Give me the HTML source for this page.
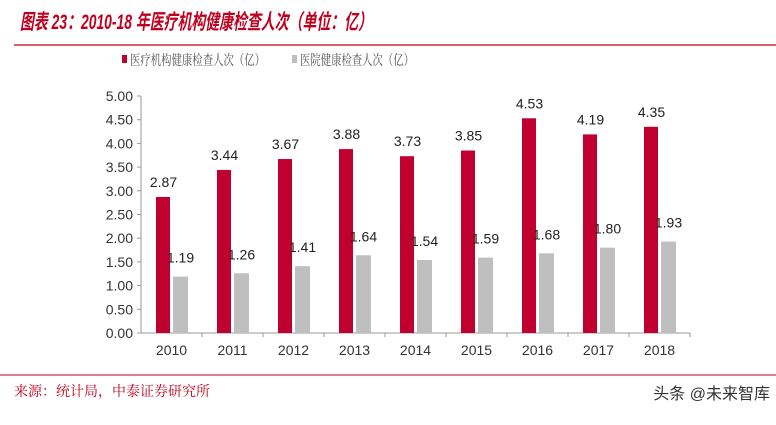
<!DOCTYPE html>
<html><head><meta charset="utf-8"><style>
body{margin:0;width:776px;height:420px;background:#fff;overflow:hidden;font-family:"Liberation Sans","Noto Sans CJK SC",sans-serif}
</style></head><body>
<svg width="776" height="420">
<text x="20" y="29" font-size="21" font-weight="bold" font-style="italic" fill="#c0001f" textLength="352" lengthAdjust="spacingAndGlyphs" font-family="Liberation Sans,Noto Sans CJK SC,sans-serif">图表 23：2010-18 年医疗机构健康检查人次（单位：亿）</text>
<line x1="14" y1="45" x2="776" y2="45" stroke="#c0001f" stroke-width="1.2"/>
<g font-size="14" fill="#555" font-family="Noto Serif CJK SC,serif">
<rect x="122" y="55" width="5" height="8" fill="#c0002f"/>
<text x="130" y="65" textLength="135" lengthAdjust="spacingAndGlyphs">医疗机构健康检查人次（亿）</text>
<rect x="292" y="55" width="5" height="8" fill="#bfbfbf"/>
<text x="300" y="65" textLength="114" lengthAdjust="spacingAndGlyphs">医院健康检查人次（亿）</text>
</g>
<g id="plot"></g>
<line x1="0" y1="375" x2="776" y2="375" stroke="#c0001f" stroke-width="1"/>
<text x="14" y="396" font-size="14" fill="#c0001f" font-family="Noto Serif CJK SC,serif">来源：统计局，中泰证券研究所</text>
<text x="770" y="399" text-anchor="end" font-size="16" fill="#333">头条 @未来智库</text>
</svg>
<script>
const years=["2010","2011","2012","2013","2014","2015","2016","2017","2018"];
const institutions=[2.87,3.44,3.67,3.88,3.73,3.85,4.53,4.19,4.35];
const hospitals=[1.19,1.26,1.41,1.64,1.54,1.59,1.68,1.80,1.93];
const yTicks=[0,0.5,1,1.5,2,2.5,3,3.5,4,4.5,5];
const NS="http://www.w3.org/2000/svg";
const g=document.getElementById('plot');
const x0=141,cw=61,y0=333,ppu=47.4;
const yS=v=>y0-v*ppu, xC=i=>x0+cw*(i+0.5);
function mk(t,a,txt){const e=document.createElementNS(NS,t);for(const k in a)e.setAttribute(k,a[k]);if(txt!=null)e.textContent=txt;g.appendChild(e);return e;}
let ax=mk('line',{x1:x0,y1:yS(5),x2:x0,y2:y0,stroke:'#999'});


let bx=mk('line',{x1:x0-4,y1:y0,x2:x0+cw*years.length,y2:y0,stroke:'#999'});


yTicks.forEach(v=>{
 let t=mk('line',{x1:x0-4,y1:yS(v),x2:x0,y2:yS(v),stroke:'#999'});
 
 
 let l=mk('text',{x:x0-8,y:yS(v)+5,'text-anchor':'end','font-size':14,fill:'#333'},v.toFixed(2));
 
 
});
years.forEach((y,i)=>{
 let t=mk('line',{x1:x0+cw*(i+1),y1:y0,x2:x0+cw*(i+1),y2:y0+4,stroke:'#999'});
 
 
 let l=mk('text',{x:xC(i),y:y0+22,'text-anchor':'middle','font-size':14,fill:'#333'},y);
 
 
 let a=institutions[i],b=hospitals[i];
 let r=mk('rect',{x:xC(i)-15.5,y:yS(a),width:14,height:a*ppu,fill:'#c0002f'});
 
 
 let r2=mk('rect',{x:xC(i)+1.5,y:yS(b),width:15,height:b*ppu,fill:'#bfbfbf'});
 
 
 let la=mk('text',{x:xC(i)-8,y:yS(a)-10,'text-anchor':'middle','font-size':14,fill:'#222'},a.toFixed(2));
 
 
 let lb=mk('text',{x:xC(i)+9,y:yS(b)-14,'text-anchor':'middle','font-size':14,fill:'#222'},b.toFixed(2));
 
 
});
</script>
</body></html>
